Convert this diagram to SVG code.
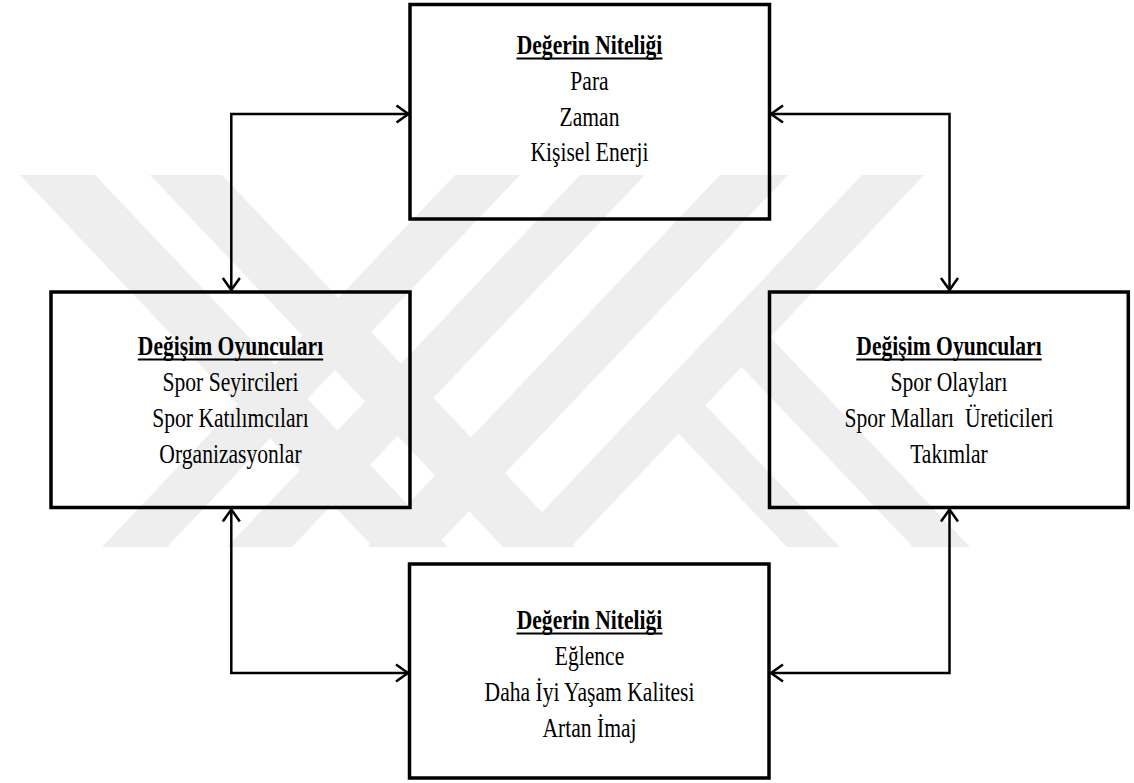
<svg xmlns="http://www.w3.org/2000/svg" width="1134" height="783" viewBox="0 0 1134 783">
  <style>
    .wm { fill: #eeeeee; stroke: none; }
    .box { fill: none; stroke: #000; stroke-width: 3.5; }
    .conn { fill: none; stroke: #000; stroke-width: 2.5; stroke-linejoin: miter; }
    .t { font-family: "Liberation Serif", "Times New Roman", serif; font-size: 27.5px; fill: #000; text-anchor: middle; }
    .h { font-weight: bold; }
    .ul { stroke: #000; stroke-width: 1.8; }
  </style>
  <defs>
    <marker id="arr" markerUnits="userSpaceOnUse" markerWidth="30" markerHeight="30" viewBox="-15 -15 30 30" refX="0" refY="0" orient="auto-start-reverse">
      <path d="M -12 -8.5 L 0 0 L -12 8.5" fill="none" stroke="#000" stroke-width="2.5" stroke-linejoin="miter"/>
    </marker>
  </defs>
  <rect x="0" y="0" width="1134" height="783" fill="#fff"/>

  <g id="watermark">
    <polygon class="wm" points="20,175 95,175 448,547 373,547"/>
    <polygon class="wm" points="150,175 222,175 575,547 503,547"/>
    <polygon class="wm" points="455,175 520,175 167,547 102,547"/>
    <polygon class="wm" points="580,175 645,175 292,547 227,547"/>
    <polygon class="wm" points="720,175 788,175 435,547 367,547"/>
    <polygon class="wm" points="862,175 924,175 571,547 509,547"/>
    <polygon class="wm" points="770,337 970,547 913,547 735,360"/>
    <polygon class="wm" points="705,405 840,547 787,547 678,433"/>
  </g>

  <g id="connectors">
    <path class="conn" d="M 231.3 290 V 114 H 408.5" marker-start="url(#arr)" marker-end="url(#arr)"/>
    <path class="conn" d="M 771 114 H 949.5 V 290" marker-start="url(#arr)" marker-end="url(#arr)"/>
    <path class="conn" d="M 231.3 509.5 V 673 H 408" marker-start="url(#arr)" marker-end="url(#arr)"/>
    <path class="conn" d="M 771 673 H 949.5 V 509.5" marker-start="url(#arr)" marker-end="url(#arr)"/>
  </g>

  <g id="node-top">
    <rect class="box" x="410" y="4.5" width="359.5" height="214.5"/>
    <text class="t h" x="0" y="54" transform="translate(589.5 0) scale(0.785 1)">Değerin Niteliği</text>
    <line class="ul" x1="516.5" y1="58.5" x2="662.5" y2="58.5"/>
    <text class="t" x="0" y="90" transform="translate(589.5 0) scale(0.785 1)">Para</text>
    <text class="t" x="0" y="126" transform="translate(589.5 0) scale(0.785 1)">Zaman</text>
    <text class="t" x="0" y="161" transform="translate(589.5 0) scale(0.785 1)">Kişisel Enerji</text>
  </g>

  <g id="node-left">
    <rect class="box" x="51" y="292" width="359" height="215.5"/>
    <text class="t h" x="0" y="355" transform="translate(230.5 0) scale(0.785 1)">Değişim Oyuncuları</text>
    <line class="ul" x1="137.8" y1="359.5" x2="323.2" y2="359.5"/>
    <text class="t" x="0" y="391" transform="translate(230.5 0) scale(0.785 1)">Spor Seyircileri</text>
    <text class="t" x="0" y="427" transform="translate(230.5 0) scale(0.785 1)">Spor Katılımcıları</text>
    <text class="t" x="0" y="463" transform="translate(230.5 0) scale(0.785 1)">Organizasyonlar</text>
  </g>

  <g id="node-right">
    <rect class="box" x="769.5" y="292" width="358.8" height="215.5"/>
    <text class="t h" x="0" y="355" transform="translate(949 0) scale(0.785 1)">Değişim Oyuncuları</text>
    <line class="ul" x1="856.3" y1="359.5" x2="1041.7" y2="359.5"/>
    <text class="t" x="0" y="391" transform="translate(949 0) scale(0.785 1)">Spor Olayları</text>
    <text class="t" x="0" y="427" transform="translate(949 0) scale(0.785 1)" xml:space="preserve">Spor Malları  Üreticileri</text>
    <text class="t" x="0" y="463" transform="translate(949 0) scale(0.785 1)">Takımlar</text>
  </g>

  <g id="node-bottom">
    <rect class="box" x="409.5" y="564" width="359.5" height="214"/>
    <text class="t h" x="0" y="629" transform="translate(589.5 0) scale(0.785 1)">Değerin Niteliği</text>
    <line class="ul" x1="516.5" y1="633.5" x2="662.5" y2="633.5"/>
    <text class="t" x="0" y="665" transform="translate(589.5 0) scale(0.785 1)">Eğlence</text>
    <text class="t" x="0" y="701" transform="translate(589.5 0) scale(0.785 1)">Daha İyi Yaşam Kalitesi</text>
    <text class="t" x="0" y="737" transform="translate(589.5 0) scale(0.785 1)">Artan İmaj</text>
  </g>
</svg>
